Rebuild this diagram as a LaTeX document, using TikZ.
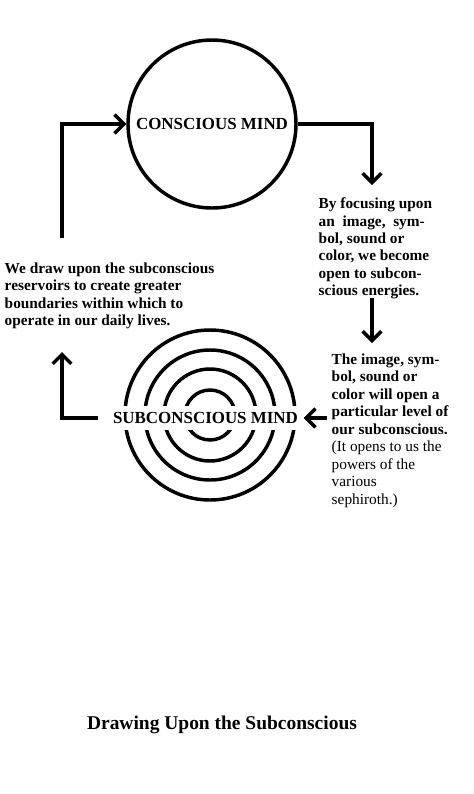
\documentclass[tikz,border=0pt]{standalone}
\usepackage{fontspec}
\setmainfont{Liberation Serif}
\usetikzlibrary{arrows.meta}

\begin{document}
\begin{tikzpicture}[x=0.75pt, y=-0.75pt, line width=2.6pt,
    arr/.style={-{Straight Barb[length=7pt, width=14pt]}},
    note/.style={anchor=north west, inner sep=0pt, align=left, font=\fontsize{11.5}{13.1}\selectfont\bfseries},
    mind/.style={font=\fontsize{12.7}{14}\selectfont\bfseries}]

    \useasboundingbox (0,0) rectangle (474,794);

    % 1. Conscious mind circle
    \node[mind, draw, circle, minimum size=126pt, inner sep=0pt] (cmind) at (212,124) {CONSCIOUS MIND};

    % 2. Subconscious mind: concentric circles, label on a white band
    \coordinate (sc) at (210,415);
    \foreach \r in {85,65,46,25}
        \draw (sc) circle (\r);
    \node[mind, fill=white, inner xsep=1pt, inner ysep=5pt] (smind) at (205.5,418) {SUBCONSCIOUS MIND};

    % 3. Notes
    \node[note] (focus) at (317,196) {By focusing upon\\an\ \ image,\ \ sym-\\bol, sound or\\color, we become\\open to subcon-\\scious energies.};
    \node[note] (image) at (330,352) {The image, sym-\\bol, sound or\\color will open a\\particular level of\\our subconscious.\\\mdseries (It opens to us the\\\mdseries powers of the\\\mdseries various\\\mdseries sephiroth.)};
    \node[note] (reservoir) at (3,261) {We draw upon the subconscious\\reservoirs to create greater\\boundaries within which to\\operate in our daily lives.};

    % 4. Arrows of the cycle
    \coordinate (tipA) at (372,185);
    \coordinate (topB) at (372,298);
    \coordinate (tipB) at (372,343);
    \coordinate (fromImg) at (327,418);
    \coordinate (upL) at (62,352);
    \coordinate (lowL) at (62,238);

    \draw[arr] (cmind.east) -| (tipA);
    \draw[arr] (topB) -- (tipB);
    \draw[arr, shorten >=2pt] (fromImg) -- (smind.east);
    \draw[arr, shorten <=9pt] (smind.west) -| (upL);
    \draw[arr] (lowL) |- (cmind.west);

    % 5. Caption
    \node[font=\fontsize{14.6}{16}\selectfont\bfseries] (title) at (222,725) {Drawing Upon the Subconscious};

\end{tikzpicture}
\end{document}
